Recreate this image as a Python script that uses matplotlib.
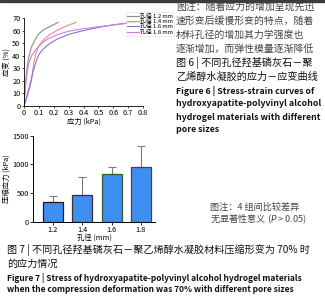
import numpy as np
import matplotlib
matplotlib.use("Agg")
import matplotlib.pyplot as plt
from matplotlib.patches import Rectangle

plt.rcParams['font.family'] = ['Noto Sans CJK SC', 'DejaVu Sans']

# stress-strain curves (stress kPa, strain %)
pore_labels = ["孔径 1.2 mm", "孔径 1.4 mm", "孔径 1.6 mm", "孔径 1.8 mm"]
curve_colors = ["#8c8c8c", "#ec8c8c", "#7878e6", "#d47ae6"]
stress_12 = [0, 0.005, 0.01, 0.02, 0.03, 0.05, 0.08, 0.1, 0.13, 0.17, 0.2, 0.23]
strain_12 = [0, 10, 18, 30, 38, 47, 54, 57.5, 60.5, 63, 64.8, 66.5]
stress_14 = [0, 0.02, 0.04, 0.05, 0.06, 0.07, 0.08, 0.1, 0.13, 0.17, 0.22, 0.28, 0.35]
strain_14 = [0, 7, 15, 20, 30, 37, 42, 48, 52.5, 56.5, 60, 63.5, 66.5]
stress_16 = [0, 0.02, 0.04, 0.06, 0.08, 0.1, 0.13, 0.17, 0.22, 0.3, 0.4, 0.5, 0.6, 0.7, 0.82]
strain_16 = [0, 8, 17, 27, 35, 41, 45.5, 49.5, 53, 57, 60, 62.5, 64.5, 66, 68]
stress_18 = [0, 0.005, 0.01, 0.02, 0.03, 0.05, 0.08, 0.1, 0.13, 0.17, 0.22, 0.3, 0.4, 0.5, 0.6, 0.7, 0.8]
strain_18 = [0, 8, 16, 26, 33, 40, 45, 47.5, 51, 54, 56.5, 59.5, 61.5, 63, 64.5, 66, 67.5]

# compressive stress at 70 % deformation
pore_sizes = ["1.2", "1.4", "1.6", "1.8"]
stress_mean = [349, 466, 827, 949]
stress_err = [105, 320, 132, 370]
bar_edges = ["#1a1a1a", "#333333", "#2f5f2f", "#6a3040"]

fig = plt.figure(figsize=(3.25, 3.0), dpi=100)
fig.patches.append(Rectangle((0, 0.993), 1, 0.007, transform=fig.transFigure,
                             color="#3c3c3c", zorder=0))

# ---- figure 6 : stress-strain ----
ax1 = fig.add_axes([0.074, 0.647, 0.366, 0.293])
curves = [(stress_12, strain_12), (stress_14, strain_14),
          (stress_16, strain_16), (stress_18, strain_18)]
for (xs, ys), c, lab in zip(curves, curve_colors, pore_labels):
    ax1.plot(xs, ys, color=c, lw=0.8, label=lab)
ax1.set_xlim(0, 0.8)
ax1.set_ylim(0, 70)
ax1.set_xticks(np.arange(0, 0.81, 0.1))
ax1.set_xticklabels(["0", "0.1", "0.2", "0.3", "0.4", "0.5", "0.6", "0.7", "0.8"])
ax1.set_yticks(range(0, 71, 10))
ax1.tick_params(labelsize=5.3, length=1.5, width=0.5, pad=1)
for s in ["top", "right"]:
    ax1.spines[s].set_visible(False)
for s in ["left", "bottom"]:
    ax1.spines[s].set_linewidth(0.6)
ax1.set_xlabel("应力 (kPa)", fontsize=5.3, labelpad=0)
ax1.set_ylabel("应变 (%)", fontsize=5.3, labelpad=1)
leg = ax1.legend(loc="upper left", bbox_to_anchor=(0.83, 1.1), fontsize=4.2,
                 frameon=True, handlelength=2.0, handletextpad=0.3,
                 borderpad=0.2, labelspacing=0.0, fancybox=False)
leg.get_frame().set_edgecolor("#dddddd")
leg.get_frame().set_linewidth(0.5)

# ---- figure 7 : bars ----
ax2 = fig.add_axes([0.1015, 0.261, 0.3755, 0.287])
xpos = np.arange(len(pore_sizes))
ax2.bar(xpos, stress_mean, width=0.68, color="#3f8ff0", edgecolor=bar_edges,
        linewidth=0.9, zorder=2)
ax2.errorbar(xpos, stress_mean, yerr=[np.zeros(4), stress_err], fmt="none",
             ecolor="#7a7a7a", elinewidth=0.8, capsize=3, capthick=0.8, zorder=1)
ax2.set_xlim(-0.68, 3.48)
ax2.set_ylim(0, 1500)
ax2.set_yticks([0, 500, 1000, 1500])
ax2.set_xticks(xpos)
ax2.set_xticklabels(pore_sizes)
ax2.tick_params(labelsize=5.3, length=2, width=0.6, pad=1)
for s in ["top", "right"]:
    ax2.spines[s].set_visible(False)
for s in ["left", "bottom"]:
    ax2.spines[s].set_linewidth(0.7)
ax2.set_xlabel("孔径 (mm)", fontsize=5.3, labelpad=0)
ax2.set_ylabel("压缩应力 (kPa)", fontsize=5.3, labelpad=1)

# ---- captions ----
note6 = ["图注：随着应力的增加呈现先迅", "速形变后缓慢形变的特点，随着",
         "材料孔径的增加其力学强度也", "逐渐增加，而弹性模量逐渐降低"]
cap6_cn = ["图 6 | 不同孔径羟基磷灰石－聚", "乙烯醇水凝胶的应力－应变曲线"]
cap6_en = ["Figure 6 | Stress-strain curves of", "hydroxyapatite-polyvinyl alcohol",
           "hydrogel materials with different", "pore sizes"]
note7 = ["图注：4 组间比较差异", "无显著性意义 ($P$ > 0.05)"]
cap7_cn = ["图 7 | 不同孔径羟基磷灰石－聚乙烯醇水凝胶材料压缩形变为 70% 时", "的应力情况"]
cap7_en = ["Figure 7 | Stress of hydroxyapatite-polyvinyl alcohol hydrogel materials",
           "when the compression deformation was 70% with different pore sizes"]

def put(x, y_px, s, size, color="#333333", weight="normal"):
    fig.text(x / 325, 1 - y_px / 300, s, fontsize=size, color=color,
             weight=weight, va="center", ha="left")

for y, s in zip([7, 21, 35, 49], note6):
    put(176, y, s, 7.1, "#444444")
for y, s in zip([63, 77], cap6_cn):
    put(176, y, s, 7.3, "#111111")
for y, s in zip([91, 104, 117, 130], cap6_en):
    put(176, y, s, 6.3, "#111111", "bold")
for y, s in zip([207, 219], note7):
    put(210, y, s, 6.6, "#444444")
for y, s in zip([250, 264], cap7_cn):
    put(7, y, s, 7.25, "#111111")
for y, s in zip([278, 290], cap7_en):
    put(7, y, s, 6.05, "#111111", "bold")

fig.savefig("out.png", dpi=100)
